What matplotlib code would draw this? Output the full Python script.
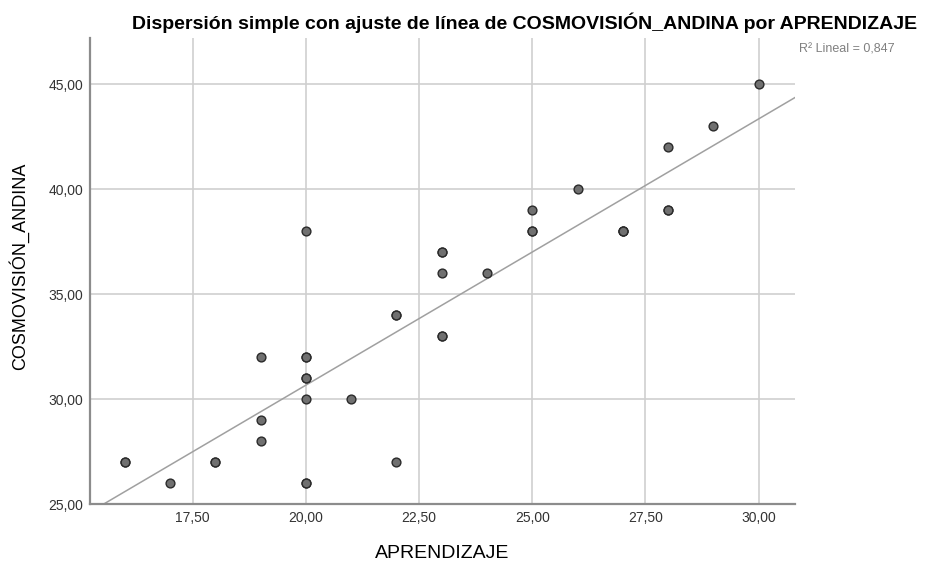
import numpy as np
import matplotlib.pyplot as plt
from matplotlib.ticker import FuncFormatter

# APRENDIZAJE (x) y COSMOVISIÓN_ANDINA (y), puntos repetidos incluidos
aprendizaje = [16, 16, 17, 18, 18, 19, 19, 19, 20, 20, 20, 20, 20, 20, 20, 20,
               21, 22, 22, 22, 23, 23, 23, 23, 23, 24, 25, 25, 25, 26, 27, 27,
               27, 28, 28, 28, 29, 30]
cosmovision = [27, 27, 26, 27, 27, 32, 29, 28, 38, 32, 32, 31, 31, 30, 26, 26,
               30, 34, 34, 27, 37, 37, 36, 33, 33, 36, 39, 38, 38, 40, 38, 38,
               38, 42, 39, 39, 43, 45]

x_ticks = [17.5, 20.0, 22.5, 25.0, 27.5, 30.0]
y_ticks = [25, 30, 35, 40, 45]
r2_text = 'R² Lineal = 0,847'

plt.rcParams['font.family'] = ['Liberation Sans', 'DejaVu Sans']

fig = plt.figure(figsize=(9.31, 5.61), dpi=100)
ax = fig.add_axes([0.0967, 0.1016, 0.757, 0.831])

x = np.array(aprendizaje, dtype=float)
y = np.array(cosmovision, dtype=float)
slope, intercept = np.polyfit(x, y, 1)

ax.set_xlim(15.23, 30.8)
ax.set_ylim(25, 47.2)

xx = np.array([15.0, 31.0])
ax.plot(xx, slope * xx + intercept, color='#a0a0a0', lw=1.1, zorder=2)
ax.scatter(x, y, s=40, facecolor='#707070', edgecolor='#2a2a2a',
           linewidth=1.0, zorder=3, clip_on=False)

ax.set_xticks(x_ticks)
ax.set_yticks(y_ticks)
fmt = FuncFormatter(lambda v, p: f'{v:.2f}'.replace('.', ','))
ax.xaxis.set_major_formatter(fmt)
ax.yaxis.set_major_formatter(fmt)
ax.tick_params(length=0, labelsize=10, colors='#333333')
ax.tick_params(axis='y', pad=5)
ax.tick_params(axis='x', pad=5)
ax.grid(True, color='#cfcfcf', lw=1.2)
ax.set_axisbelow(True)

for s in ['top', 'right']:
    ax.spines[s].set_visible(False)
for s in ['left', 'bottom']:
    ax.spines[s].set_color('#8c8c8c')
    ax.spines[s].set_linewidth(1.6)

fig.text(0.475, 0.006, 'APRENDIZAJE', ha='center', va='baseline', fontsize=14)
fig.text(0.02, 0.525, 'COSMOVISIÓN_ANDINA', ha='center', va='center',
         rotation=90, fontsize=13)
fig.text(0.5634, 0.948, 'Dispersión simple con ajuste de línea de COSMOVISIÓN_ANDINA por APRENDIZAJE',
         ha='center', va='baseline', fontsize=14, fontweight='bold')
fig.text(0.858, 0.911, r2_text, ha='left', va='center', fontsize=9, color='#808080')

fig.savefig('out.png', dpi=100)
